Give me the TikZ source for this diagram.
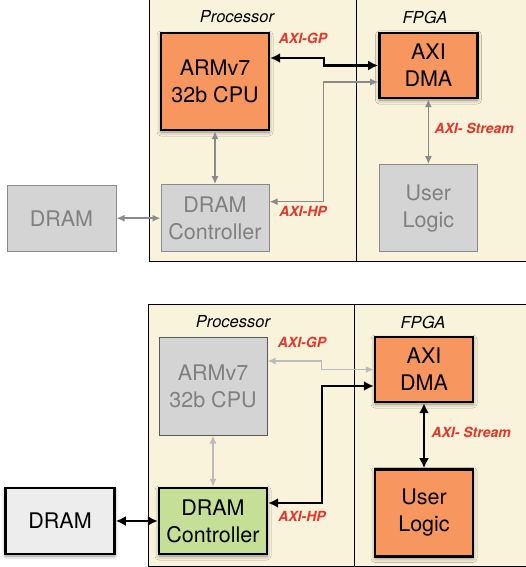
\documentclass[tikz,border=0pt]{standalone}
\usepackage{fontspec}
\setmainfont{TeX Gyre Heros}
\usetikzlibrary{positioning, arrows.meta, shadows.blur}

\definecolor{axiorange}{HTML}{F7965F}
\definecolor{ctrlgreen}{HTML}{C5DF96}
\definecolor{offgray}{HTML}{D4D4D4}
\definecolor{offline}{HTML}{8A8A8A}
\definecolor{offtext}{HTML}{808080}
\definecolor{dramgray}{HTML}{EDEDED}
\definecolor{panelcream}{HTML}{FAF3DC}
\definecolor{busred}{HTML}{E8352A}
\definecolor{faintline}{HTML}{BBBBBB}

\tikzset{
    panel/.style={draw, fill=panelcream, line width=0.8pt, anchor=north west, inner sep=0pt},
    title/.style={font=\fontsize{16.5}{18}\selectfont\itshape},
    blk/.style={draw, line width=2.4pt, align=center, inner sep=0pt,
        font=\fontsize{21.5}{27}\selectfont,
        blur shadow={shadow xshift=0pt, shadow yshift=-2pt, shadow blur radius=4pt, shadow opacity=45}},
    offblk/.style={draw=offline, line width=1pt, fill=offgray, text=offtext, align=center, inner sep=0pt,
        font=\fontsize{21.5}{27}\selectfont},
    bus/.style={text=busred, font=\fontsize{14}{16}\selectfont\bfseries\itshape},
    hot/.style={{Latex[length=10pt,width=10pt]}-{Latex[length=10pt,width=10pt]}, line width=2.5pt},
    cold/.style={{Latex[length=8pt,width=7pt]}-{Latex[length=8pt,width=7pt]}, line width=1.5pt, draw=offline},
    faint/.style={{Latex[length=8pt,width=7pt]}-{Latex[length=8pt,width=7pt]}, line width=1.3pt, draw=faintline}
}

\begin{document}
\begin{tikzpicture}[x=1pt, y=-1pt]
\useasboundingbox (0,0) rectangle (526,567);

% top: CPU drives the DMA

\node[panel, minimum width=208pt, minimum height=265pt] (procA) at (149,-4) {};
\node[panel, minimum width=175pt, minimum height=265pt] (fpgaA) at (356,-4) {};
\node[title] (proctitleA) at (237,17) {Processor};
\node[title] (fpgatitleA) at (425,17) {FPGA};

\node[blk, fill=axiorange, minimum width=108pt, minimum height=97pt] (cpuA) at (215,81.5) {ARMv7\\32b CPU};
\node[blk, fill=axiorange, minimum width=98pt, minimum height=65pt, right=108pt of cpuA.east, anchor=west, yshift=16pt] (dmaA) {AXI\\DMA};
\node[offblk, minimum width=98pt, minimum height=87pt, below=65pt of dmaA] (userA) {User\\Logic};
\node[offblk, minimum width=108pt, minimum height=67pt, below=53pt of cpuA] (ctrlA) {DRAM\\Controller};
\node[offblk, minimum width=109pt, minimum height=66pt, left=44pt of ctrlA] (dramA) {DRAM};

\draw[hot] ([yshift=23.5pt]cpuA.east) -- ++(54,0) |- (dmaA.west);
\draw[cold] ([yshift=16.5pt]ctrlA.east) -- ++(54,0) |- ([yshift=-16.5pt]dmaA.west);
\draw[cold] (cpuA) -- (ctrlA);
\draw[cold] (dmaA) -- (userA);
\draw[cold] (dramA) -- (ctrlA);

\node[bus] (gpA) at (303,38) {AXI-GP};
\node[bus] (hpA) at (303,211) {AXI-HP};
\node[bus, anchor=west] (streamA) at (431,128) {AXI- Stream};

% bottom: DMA streams to DRAM

\node[panel, minimum width=206pt, minimum height=262pt] (procB) at (148,304) {};
\node[panel, minimum width=177pt, minimum height=262pt] (fpgaB) at (354,304) {};
\node[title] (proctitleB) at (233,322) {Processor};
\node[title] (fpgatitleB) at (423,322) {FPGA};

\node[offblk, draw=black!65, minimum width=108pt, minimum height=98pt] (cpuB) at (213,386) {ARMv7\\32b CPU};
\node[blk, fill=axiorange, minimum width=98pt, minimum height=65pt] (dmaB) at (424,369.5) {AXI\\DMA};
\node[blk, fill=axiorange, minimum width=98pt, minimum height=87pt, below=65pt of dmaB] (userB) {User\\Logic};
\node[blk, fill=ctrlgreen, minimum width=108pt, minimum height=66pt] (ctrlB) at (213,521) {DRAM\\Controller};
\node[blk, fill=dramgray, minimum width=109pt, minimum height=66pt, left=42pt of ctrlB] (dramB) {DRAM};

\draw[faint] ([yshift=25pt]cpuB.east) -- ++(54,0) |- (dmaB.west);
\draw[hot] ([yshift=18pt]ctrlB.east) -- ++(54,0) |- ([yshift=-16.5pt]dmaB.west);
\draw[faint] (cpuB) -- (ctrlB);
\draw[hot] (dmaB) -- (userB);
\draw[hot] (dramB) -- (ctrlB);

\node[bus] (gpB) at (302,342) {AXI-GP};
\node[bus] (hpB) at (302,516) {AXI-HP};
\node[bus, anchor=west] (streamB) at (428,432) {AXI- Stream};

\end{tikzpicture}
\end{document}
